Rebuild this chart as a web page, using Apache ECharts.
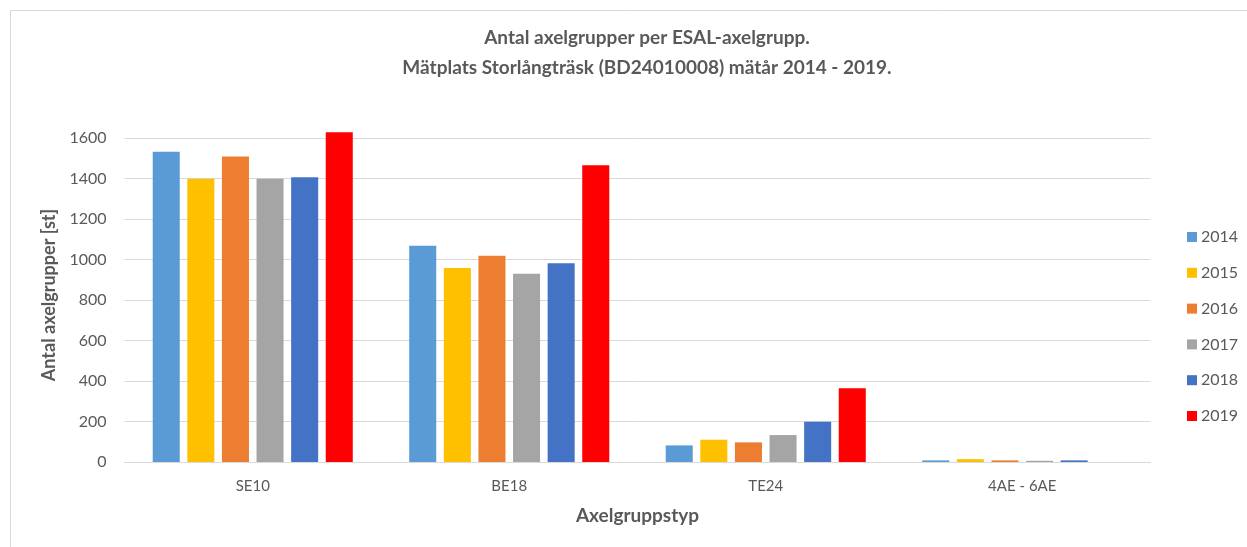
<!DOCTYPE html>
<html>
<head>
<meta charset="utf-8">
<script src="https://cdn.jsdelivr.net/npm/echarts@6/dist/echarts.min.js"></script>
<style>html,body{margin:0;padding:0;background:#fff}#c{width:1247px;height:547px}</style>
</head>
<body>
<div id="c"></div>
<script>
const categories = ['SE10', 'BE18', 'TE24', '4AE - 6AE'];
const years = ['2014', '2015', '2016', '2017', '2018', '2019'];
const v2014 = [1532, 1068, 82, 8];
const v2015 = [1399, 958, 110, 14];
const v2016 = [1509, 1019, 97, 8];
const v2017 = [1399, 930, 133, 6];
const v2018 = [1406, 981, 199, 8];
const v2019 = [1628, 1465, 364, 0];
const seriesValues = [v2014, v2015, v2016, v2017, v2018, v2019];
const colors = ['#5B9BD5', '#FFC000', '#ED7D31', '#A5A5A5', '#4472C4', '#FF0000'];
const yTicks = [0, 200, 400, 600, 800, 1000, 1200, 1400, 1600];

const font = 'Lato, "Open Sans", sans-serif';
const chart = echarts.init(document.getElementById('c'), null, {renderer: 'canvas'});
chart.setOption({
  animation: false,
  backgroundColor: '#fff',
  title: {
    text: 'Antal axelgrupper per ESAL-axelgrupp.\nMätplats Storlångträsk (BD24010008) mätår 2014 - 2019.',
    left: 642, top: 18, textAlign: 'center',
    textStyle: {fontFamily: font, fontSize: 19, fontWeight: 'bold', color: '#595959', lineHeight: 30}
  },
  legend: {
    orient: 'vertical', left: 1182, top: 224,
    itemWidth: 10, itemHeight: 10, itemGap: 19.8,
    icon: 'rect',
    textStyle: {fontFamily: font, fontSize: 16, color: '#595959', padding: [0,0,0,-1]},
    data: years
  },
  grid: {left: 124.5, right: 96.5, top: 138, bottom: 85, containLabel: false},
  xAxis: {
    type: 'category', data: categories,
    name: 'Axelgruppstyp', nameLocation: 'middle', nameGap: 44,
    nameTextStyle: {fontFamily: font, fontSize: 19, fontWeight: 'bold', color: '#595959'},
    axisLine: {lineStyle: {color: '#d9d9d9'}},
    axisTick: {show: false},
    axisLabel: {fontFamily: font, fontSize: 15, color: '#595959', margin: 17}
  },
  yAxis: {
    type: 'value', min: 0, max: 1600, interval: 200,
    name: 'Antal axelgrupper [st]', nameLocation: 'middle', nameRotate: 90, nameGap: 66,
    nameTextStyle: {fontFamily: font, fontSize: 18, fontWeight: 'bold', color: '#595959', padding: [0,0,0,10]},
    axisLine: {show: false}, axisTick: {show: false},
    splitLine: {lineStyle: {color: '#d9d9d9'}},
    axisLabel: {fontFamily: font, fontSize: 16, color: '#595959', margin: 18,
      formatter: v => yTicks.includes(v) ? String(v) : ''}
  },
  graphic: [{
    type: 'rect', shape: {x: 10.5, y: 10.5, width: 1260, height: 560},
    style: {fill: 'none', stroke: '#d9d9d9', lineWidth: 1}, silent: true
  }],
  series: years.map((y, i) => ({
    name: y, type: 'bar', data: seriesValues[i], clip: false,
    barGap: '28%', barCategoryGap: '22%',
    itemStyle: {color: colors[i]}
  }))
});
</script>
</body>
</html>
